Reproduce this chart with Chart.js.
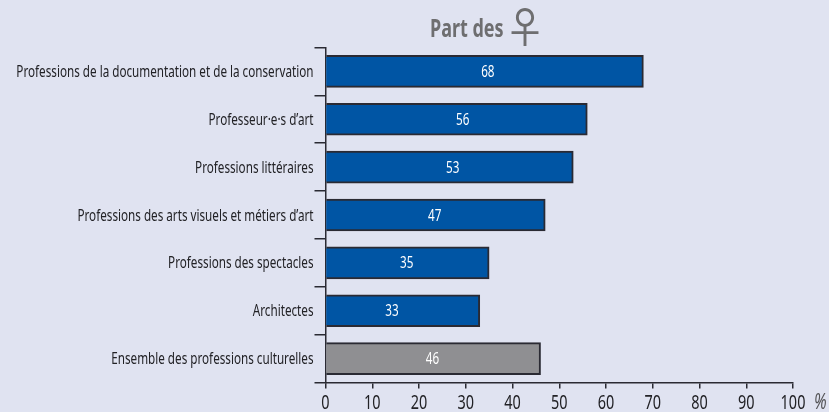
<!DOCTYPE html>
<html lang="fr">
<head>
<meta charset="utf-8">
<title>Part des femmes</title>
<script src="https://cdn.jsdelivr.net/npm/chart.js@4"></script>
<style>
    html, body { margin: 0; padding: 0; background: #e0e3f1; }
    #wrap { width: 829px; height: 412px; position: relative; overflow: hidden; }
</style>
</head>
<body>
<div id="wrap"><canvas id="chart"></canvas></div>
<script>
// Chart data
const categories = [
    'Professions de la documentation et de la conservation',
    'Professeur·e·s d’art',
    'Professions littéraires',
    'Professions des arts visuels et métiers d’art',
    'Professions des spectacles',
    'Architectes',
    'Ensemble des professions culturelles'
];
const shares = [68, 56, 53, 47, 35, 33, 46];
const xTicks = [0, 10, 20, 30, 40, 50, 60, 70, 80, 90, 100];
const titleText = 'Part des';
const titleSymbol = '♀';
const unitText = '%';

const BLUE = '#0055a4';
const GREY = '#8f8f92';
const DARK = '#2a2a33';
const TEXT = '#222226';
const FONT = '"Noto Sans", "Open Sans", sans-serif';
const NARROW = 0.73; // no condensed font installed, so squeeze the text horizontally

// the labels inside the bars are not quite centred in the original
const labelNudge = [3, 6, 3, -1, -1, -11, -1];

function narrowText(ctx, text, x, y, align, squeeze = NARROW) {
    ctx.save();
    ctx.translate(x, y);
    ctx.scale(squeeze, 1);
    ctx.textAlign = align;
    ctx.textBaseline = 'middle';
    ctx.fillText(text, 0, 0);
    ctx.restore();
}

// Tick labels, values inside the bars, title and unit
const annotations = {
    id: 'annotations',
    afterDatasetsDraw(chart) {
        const { ctx, scales, chartArea } = chart;
        ctx.save();

        ctx.fillStyle = TEXT;
        ctx.font = `16px ${FONT}`;
        categories.forEach((label, i) => {
            narrowText(ctx, label, 313.5, scales.y.getPixelForValue(i) + 1, 'right');
        });

        ctx.font = `19px ${FONT}`;
        xTicks.forEach(value => {
            narrowText(ctx, value, scales.x.getPixelForValue(value), chartArea.bottom + 21, 'center', 0.76);
        });

        ctx.fillStyle = '#ffffff';
        ctx.font = `16px ${FONT}`;
        chart.getDatasetMeta(0).data.forEach((bar, i) => {
            narrowText(ctx, shares[i], (bar.x + bar.base) / 2 + labelNudge[i], bar.y + 1, 'center');
        });

        ctx.fillStyle = '#6e6e70';
        ctx.font = `bold 25px ${FONT}`;
        narrowText(ctx, titleText, 430, 30, 'left', 0.72);
        ctx.font = '42px "Noto Sans CJK JP", sans-serif';
        narrowText(ctx, titleSymbol, 525, 27, 'center', 1);

        ctx.fillStyle = '#555558';
        ctx.font = `italic 22px ${FONT}`;
        narrowText(ctx, unitText, 814, chartArea.bottom + 20, 'left', 0.72);
        ctx.restore();
    }
};

new Chart(document.getElementById('chart'), {
    type: 'bar',
    plugins: [annotations],
    data: {
        labels: categories,
        datasets: [{
            data: shares,
            backgroundColor: shares.map((v, i) => i === shares.length - 1 ? GREY : BLUE),
            borderColor: DARK,
            borderWidth: 2,
            barThickness: 32
        }]
    },
    options: {
        indexAxis: 'y',
        responsive: true,
        maintainAspectRatio: false,
        animation: false,
        layout: { padding: { top: 47.5, right: 36, bottom: 0, left: 0 } },
        plugins: { legend: { display: false }, tooltip: { enabled: false } },
        scales: {
            x: {
                min: 0,
                max: 100,
                afterBuildTicks(axis) { axis.ticks = xTicks.map(value => ({ value })); },
                afterFit(axis) { axis.height = 29.5; },
                border: { color: DARK, width: 1.5 },
                grid: { drawOnChartArea: false, color: DARK, lineWidth: 1.5, tickLength: 6 },
                ticks: { display: false }
            },
            y: {
                afterFit(axis) { axis.width = 325.5; },
                border: { color: DARK, width: 1.5 },
                grid: { drawOnChartArea: false, color: DARK, lineWidth: 1.5, tickLength: 11 },
                ticks: { display: false, autoSkip: false }
            }
        }
    }
});
</script>
</body>
</html>
